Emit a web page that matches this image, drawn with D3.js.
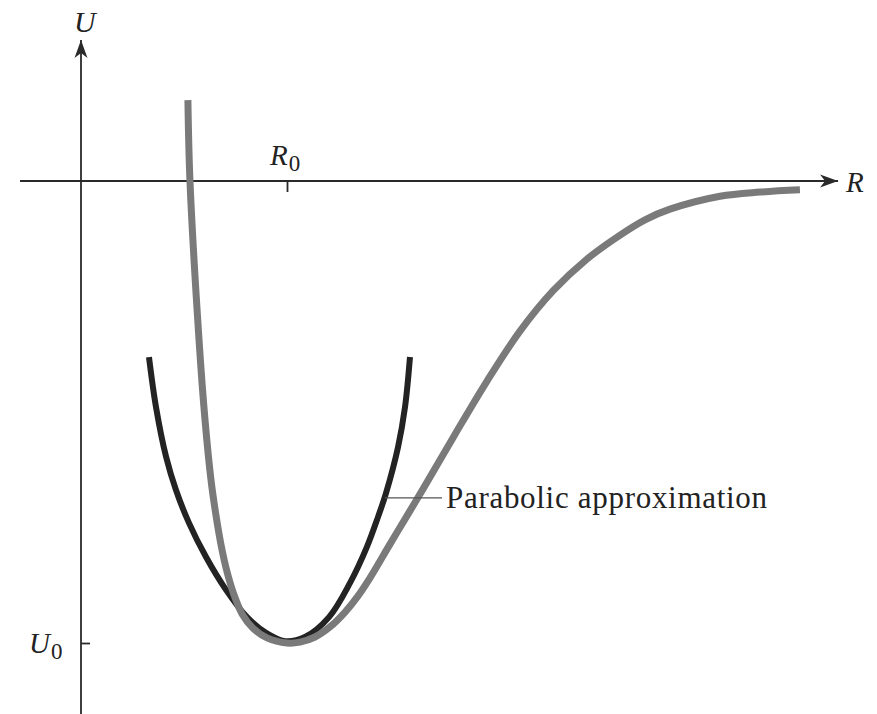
<!DOCTYPE html>
<html>
<head>
<meta charset="utf-8">
<script src="https://cdn.jsdelivr.net/npm/d3@7"></script>
<style>
  html, body { margin: 0; padding: 0; background: #fff; }
  svg { display: block; }
  text { font-family: "Liberation Serif", "DejaVu Serif", serif; fill: #222; }
</style>
</head>
<body>
<svg id="chart" width="877" height="714"></svg>
<script>
// Potential energy U(R) of a diatomic bond (R0 = 1, U0 = -1 units)
const potentialR = [0.519, 0.529, 0.573, 0.602, 0.631, 0.655, 0.680, 0.709, 0.743, 0.782, 0.835, 0.903, 1.000,
                    1.063, 1.136, 1.209, 1.282, 1.345, 1.403, 1.500, 1.597, 1.660, 1.816, 1.971, 2.131, 2.291,
                    2.456, 2.617, 2.738, 2.859, 3.102, 3.296, 3.490];
const potentialU = [0.175, 0.000, -0.344, -0.517, -0.647, -0.723, -0.788, -0.846, -0.896, -0.937, -0.968, -0.989, -1.000,
                    -0.998, -0.987, -0.965, -0.933, -0.898, -0.859, -0.786, -0.714, -0.667, -0.548, -0.433, -0.325, -0.238,
                    -0.169, -0.117, -0.084, -0.061, -0.033, -0.024, -0.019];

// Parabolic approximation around the minimum
const parabolaR = [0.330, 0.364, 0.413, 0.461, 0.524, 0.607, 0.704, 0.806, 0.898, 0.990,
                   1.087, 1.204, 1.306, 1.388, 1.442, 1.481, 1.539, 1.573, 1.597];
const parabolaU = [-0.381, -0.489, -0.597, -0.669, -0.740, -0.814, -0.885, -0.944, -0.978, -0.996,
                   -0.987, -0.944, -0.870, -0.792, -0.727, -0.675, -0.576, -0.489, -0.381];

// Marked ticks
const xTickValues = [1];
const xTickLabels = ["R", "0"];
const yTickValues = [-1];
const yTickLabels = ["U", "0"];
const axisNames = ["R", "U"];
const annotationText = "Parabolic approximation";
const annotationAnchor = [1.476, -0.686];

const svg = d3.select("#chart");

const x = d3.scaleLinear().domain([0, 1]).range([81, 287]);
const y = d3.scaleLinear().domain([0, -1]).range([181, 643]);

const axisColor = "#2a2a2a";

// Arrowhead
const defs = svg.append("defs");
defs.append("marker")
  .attr("id", "arrow")
  .attr("viewBox", "-20 -8 22 16")
  .attr("refX", 0).attr("refY", 0)
  .attr("markerUnits", "userSpaceOnUse")
  .attr("markerWidth", 22).attr("markerHeight", 16)
  .attr("orient", "auto")
  .append("path")
  .attr("d", "M0,0 L-18,-6.5 L-13,0 L-18,6.5 Z")
  .attr("fill", axisColor);

// Horizontal axis (R)
svg.append("line")
  .attr("x1", x(-0.296)).attr("x2", x(3.675))
  .attr("y1", y(0)).attr("y2", y(0))
  .attr("stroke", axisColor).attr("stroke-width", 1.8)
  .attr("marker-end", "url(#arrow)");

// Vertical axis (U)
svg.append("line")
  .attr("x1", x(0)).attr("x2", x(0))
  .attr("y1", y(-1.16)).attr("y2", y(0.305))
  .attr("stroke", axisColor).attr("stroke-width", 1.8)
  .attr("marker-end", "url(#arrow)");

// Tick marks via d3 axes
const xAxis = d3.axisBottom(x).tickValues(xTickValues).tickSize(11).tickFormat("");
const gx = svg.append("g").attr("transform", `translate(0,${y(0)})`).call(xAxis);
gx.select(".domain").remove();
gx.selectAll(".tick line").attr("stroke", axisColor).attr("stroke-width", 1.8);

const yAxis = d3.axisRight(y).tickValues(yTickValues).tickSize(9).tickFormat("");
const gy = svg.append("g").attr("transform", `translate(${x(0)},0)`).call(yAxis);
gy.select(".domain").remove();
gy.selectAll(".tick line").attr("stroke", axisColor).attr("stroke-width", 1.8);

// Tick labels with subscripts
function subLabel(px, py, parts) {
  const t = svg.append("text").attr("x", px).attr("y", py).attr("font-size", 29);
  t.append("tspan").attr("font-style", "italic").text(parts[0]);
  t.append("tspan").attr("font-size", 23).attr("dy", 6).attr("dx", 1).text(parts[1]);
  return t;
}
subLabel(x(xTickValues[0]) - 17, y(0) - 16, xTickLabels);
subLabel(x(0) - 52, y(yTickValues[0]) + 10, yTickLabels);

// Axis names
svg.append("text").attr("x", x(3.675) + 8).attr("y", y(0) + 11)
  .attr("font-size", 29).attr("font-style", "italic").text(axisNames[0]);
svg.append("text").attr("x", x(0) - 7).attr("y", y(0.305) - 8)
  .attr("font-size", 30).attr("font-style", "italic").text(axisNames[1]);

const line = d3.line()
  .x(d => x(d[0]))
  .y(d => y(d[1]))
  .curve(d3.curveCatmullRom.alpha(0.5));

// Parabola (drawn first, the potential sits on top of it)
svg.append("path")
  .datum(parabolaR.map((r, i) => [r, parabolaU[i]]))
  .attr("d", line)
  .attr("fill", "none")
  .attr("stroke", "#232323")
  .attr("stroke-width", 6);

// Potential energy curve
svg.append("path")
  .datum(potentialR.map((r, i) => [r, potentialU[i]]))
  .attr("d", line)
  .attr("fill", "none")
  .attr("stroke", "#7a7a7a")
  .attr("stroke-width", 7);

// Annotation leader and text
svg.append("line")
  .attr("x1", x(annotationAnchor[0])).attr("x2", 442)
  .attr("y1", y(annotationAnchor[1])).attr("y2", y(annotationAnchor[1]))
  .attr("stroke", "#555").attr("stroke-width", 1.3);
svg.append("text")
  .attr("x", 446).attr("y", 508)
  .attr("font-size", 31)
  .attr("textLength", 321).attr("lengthAdjust", "spacing")
  .text(annotationText);
</script>
</body>
</html>
